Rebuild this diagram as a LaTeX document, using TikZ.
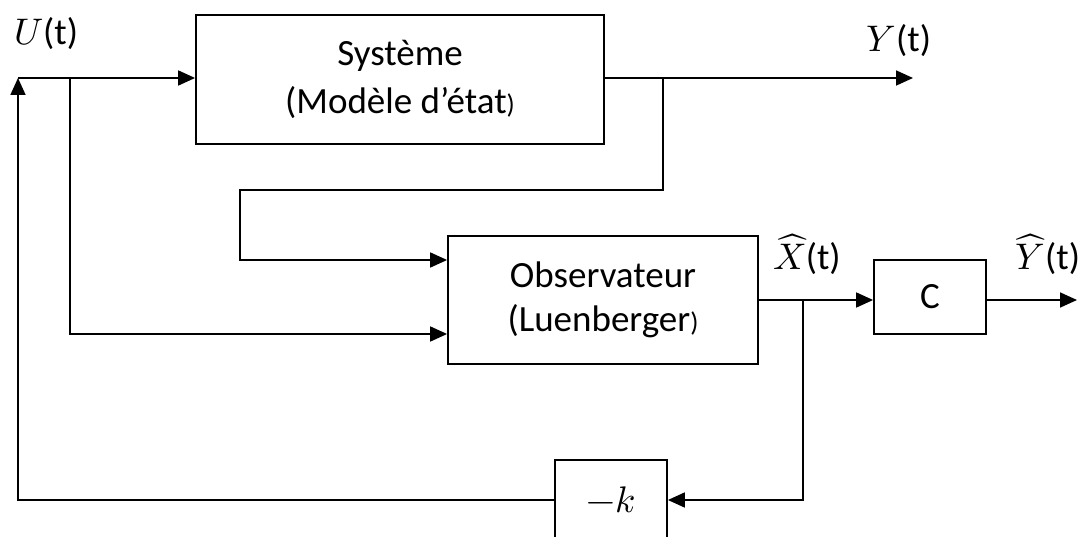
\documentclass[tikz,border=0pt]{standalone}
\usepackage{fontspec}
\usepackage{unicode-math}
\setmainfont{Carlito}
\setmathfont{Latin Modern Math}
\usetikzlibrary{arrows.meta}
\begin{document}
\begin{tikzpicture}[x=1pt,y=-1pt, line width=1.8pt,
  blk/.style={draw, line width=1.8pt, inner sep=0pt, align=center, font=\fontsize{37}{48}\selectfont},
  arr/.style={-{Triangle[length=17pt,width=15pt]}},
  lbl/.style={anchor=base, inner sep=0pt, font=\fontsize{37}{44}\selectfont}]
\useasboundingbox (0,0) rectangle (1079,537);
\node[blk, minimum width=408pt, minimum height=129pt] (sys) at (400,79.5) {Système\\(Modèle d’état{\fontsize{27}{27}\selectfont)}};
\node[blk, minimum width=310pt, minimum height=128pt, font=\fontsize{37}{44}\selectfont] (obs) at (603,300) {Observateur\\(Luenberger{\fontsize{27}{27}\selectfont)}};
\node[blk, minimum width=112pt, minimum height=74pt] (C) at (930,297) {C};
\node[blk, minimum width=112pt, minimum height=80pt] (k) at (611,500) {$-k$};
\coordinate (ul) at (18,78);
\coordinate (ub) at (70,78);
\coordinate (yb) at (663,78);
\coordinate (yend) at (913,78);
\coordinate (c2) at (240,190);
\coordinate (xb) at (803,300);
\coordinate (yhat) at (1077,300);
% feedback
\draw[arr] (k.west) -| (ul);
\draw[arr] (ul) -- (sys.west |- ul);
\draw[arr] (ub) |- ([yshift=-34pt]obs.west);
\draw[arr] (sys.east |- ul) -- (yend);
\draw[arr] (yb) |- (c2) |- ([yshift=40pt]obs.west);
\draw[arr] (obs.east) -- (C.west |- obs.east);
\draw[arr] (C.east |- obs.east) -- (yhat);
\draw[arr] (xb) |- (k.east);
% labels
\node[lbl] (lu) at (46,45) {$U$(t)};
\node[lbl] (ly) at (899,52) {$Y$(t)};
\node[lbl] (lx) at (807,270) {$\widehat{X}$(t)};
\node[lbl] (lyh) at (1048,270) {$\widehat{Y}$(t)};
\end{tikzpicture}
\end{document}
